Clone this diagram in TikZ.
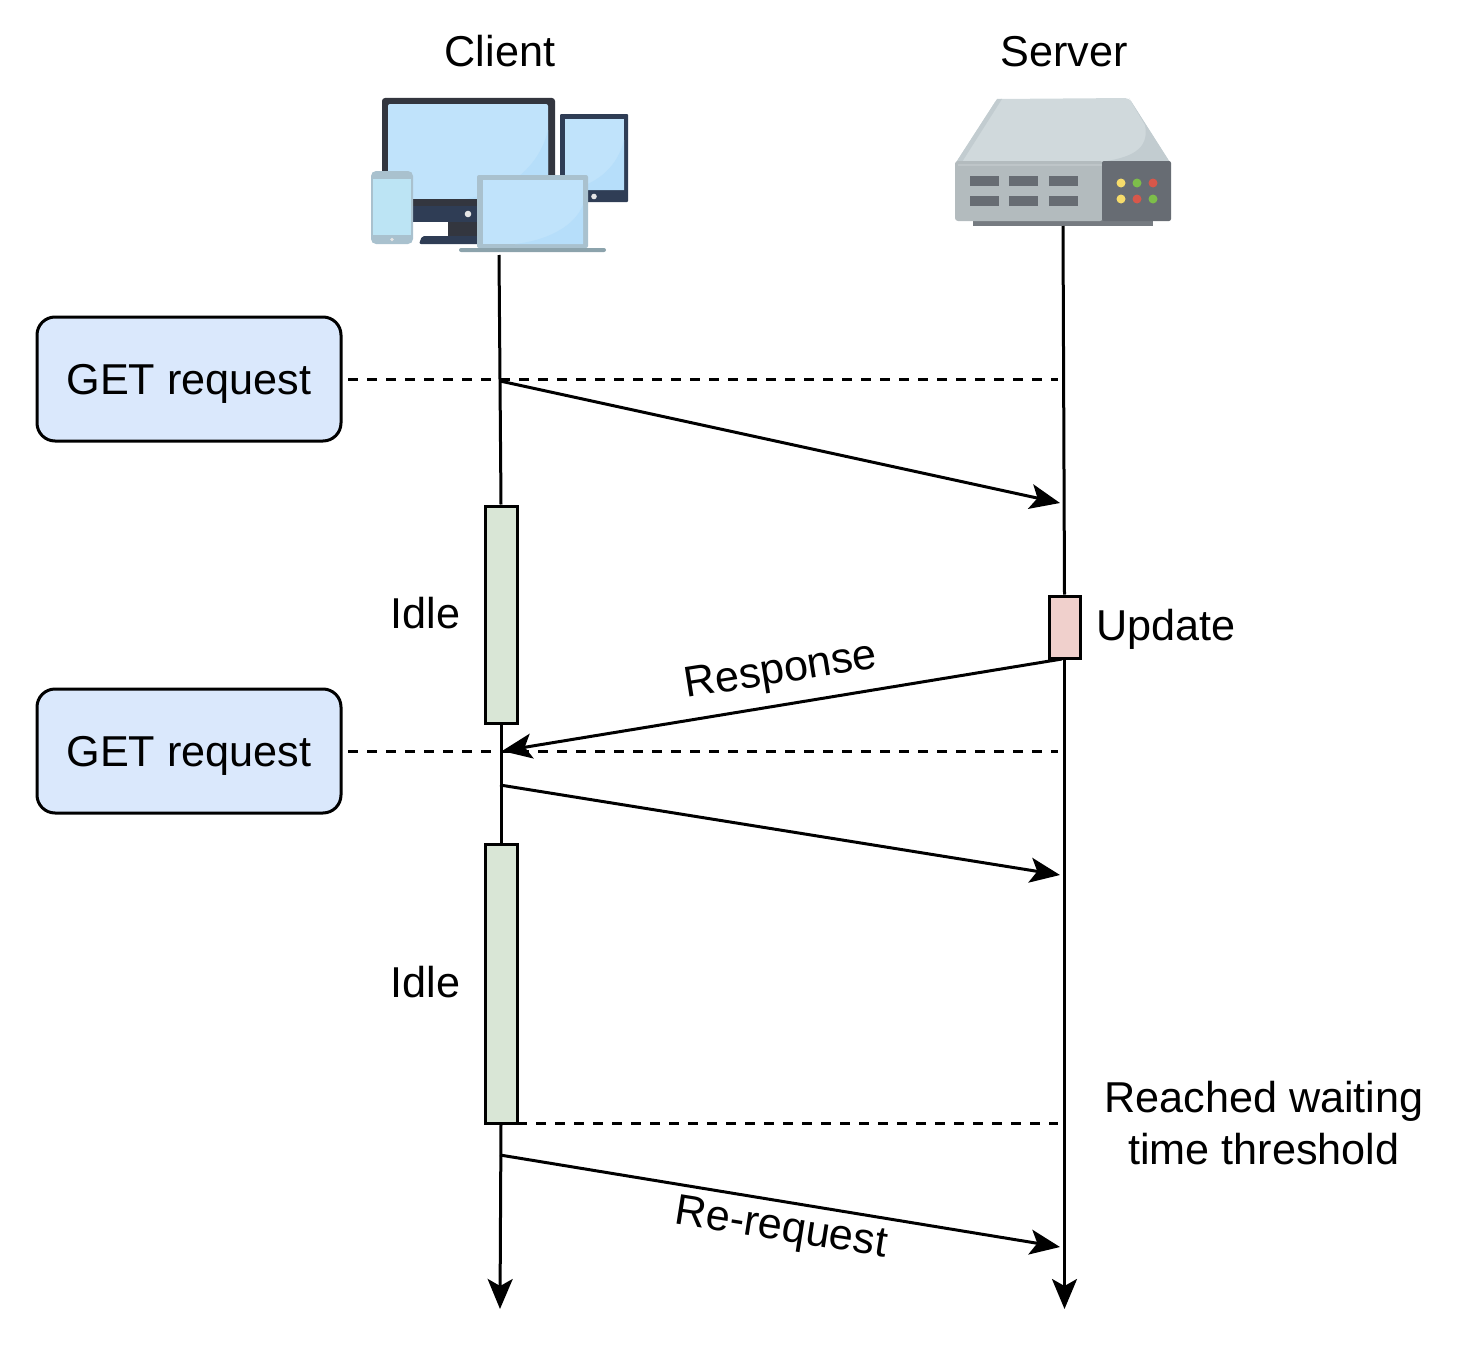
\documentclass[tikz,border=0pt]{standalone}
\usepackage{fontspec}
\setmainfont{Liberation Sans}
\usetikzlibrary{arrows.meta}
\definecolor{reqfill}{HTML}{DAE8FC}
\definecolor{idlefill}{HTML}{D9E6D6}
\definecolor{updfill}{HTML}{F0D0CC}
\definecolor{scr}{HTML}{C0E3FB}
\definecolor{scrb}{HTML}{B6DEFA}
\definecolor{dk}{HTML}{33363F}
\definecolor{nv}{HTML}{2F3D55}
\definecolor{sil}{HTML}{A9C1CE}
\definecolor{sil2}{HTML}{8CA3AC}
\definecolor{phs}{HTML}{BCE4F4}
\definecolor{top}{HTML}{D0D9DC}
\definecolor{topd}{HTML}{C2CCD0}
\definecolor{fr}{HTML}{B3BBBE}
\definecolor{pan}{HTML}{676C73}
\definecolor{lyel}{HTML}{F6DC6B}
\definecolor{lgrn}{HTML}{7DBE4A}
\definecolor{lred}{HTML}{D8574A}
\tikzset{
  x=1pt,y=-1pt,
  txt/.style={font=\fontsize{43.2}{52}\selectfont,inner sep=0pt,align=center},
  line/.style={line width=3pt,draw=black},
  flow/.style={line,-{Stealth[length=30pt,width=25pt,inset=7pt]}},
  dashln/.style={line,dash pattern=on 10pt off 9pt},
  reqbox/.style={line,fill=reqfill,rounded corners=18pt,minimum width=304pt,minimum height=124pt,inner sep=0pt,font=\fontsize{43.2}{52}\selectfont,text depth=0pt},
  idlebar/.style={line,fill=idlefill,minimum width=32pt,inner sep=0pt},
  updbar/.style={line,fill=updfill,minimum width=31pt,minimum height=62pt,inner sep=0pt},
}
\begin{document}
\begin{tikzpicture}
\useasboundingbox (0,0) rectangle (1468,1354);
% client icon
\fill[dk,rounded corners=3pt] (382,98) rectangle (555,216);
\fill[scr,rounded corners=2pt] (388,104) rectangle (548,199);
\fill[scrb] (548,130) .. controls (540,165) and (510,192) .. (465,199) -- (548,199) -- cycle;
\fill[nv] (412,199) rectangle (480,222);
\fill[dk] (412,199) rectangle (480,206);
\fill[dk] (448,222) rectangle (480,236);
\fill[nv,rounded corners=2pt] (419,244) -- (422,236) -- (480,236) -- (480,244) -- cycle;
\fill[white!90!black] (468,214) circle (3.3);
\fill[nv,rounded corners=1pt] (560,114) rectangle (628,202);
\fill[scr] (565,119) rectangle (624,190);
\fill[scrb] (624,140) .. controls (618,165) and (600,183) .. (570,190) -- (624,190) -- cycle;
\fill[white!90!black] (594,196.500) circle (2.8);
\fill[sil,rounded corners=5pt] (371,171) rectangle (413,244);
\fill[phs] (373,179) rectangle (411,235);
\fill[white!90!black] (392,239.500) circle (1.9);
\fill[sil,rounded corners=2pt] (477,175) rectangle (588,248);
\fill[scr] (483,180) rectangle (583,244);
\fill[scrb] (583,205) .. controls (575,225) and (550,240) .. (515,244) -- (583,244) -- cycle;
\fill[sil2,rounded corners=2pt] (459,248) rectangle (606,252);
% server icon
\fill[pan!90!white] (973,218) rectangle (1153,226);
\fill[top,rounded corners=4pt] (955,164) -- (997,99) -- (1129,98) -- (1171,164) -- (1171,172) -- (955,172) -- cycle;
\fill[topd] (955,164) -- (997,99) -- (1002,99) -- (962,162) -- cycle;
\fill[topd] (1171,164) -- (1129,98) -- (1145,125) .. controls (1150,150) and (1130,158) .. (1100,162) -- cycle;
\fill[fr,rounded corners=3pt] (955,161) rectangle (1103,221);
\fill[pan,rounded corners=2pt] (1102,161) rectangle (1171,221);
\fill[fr!85!white] (958,164) rectangle (1102,166);
\foreach \c in {970,1009,1049}{
  \foreach \r in {176,196}{
    \fill[pan] (\c,\r) rectangle ++(29,10);
  }
}
\fill[lyel] (1121,183) circle (4.5);
\fill[lgrn] (1137,183) circle (4.5);
\fill[lred] (1153,183) circle (4.5);
\fill[lyel] (1121,199) circle (4.5);
\fill[lred] (1137,199) circle (4.5);
\fill[lgrn] (1153,199) circle (4.5);
% titles
\node[txt] (clientlabel) at (500,51) {Client};
\node[txt] (serverlabel) at (1064,52) {Server};
% coordinates
\coordinate (ctop) at (499,255);
\coordinate (stop) at (1063,226);
\coordinate (cbot) at (500,1309);
\coordinate (sbot) at (1064.500,1309);
\coordinate (d1a) at (348,379);
\coordinate (d1b) at (1058,379);
\coordinate (d2a) at (348,751);
\coordinate (d2b) at (1058,751);
\coordinate (d3a) at (517,1123.500);
\coordinate (d3b) at (1058,1123.500);
\coordinate (a1s) at (500,381);
\coordinate (a1e) at (1060,503);
\coordinate (a2s) at (1062,659);
\coordinate (a2e) at (502,751);
\coordinate (a3s) at (500,785);
\coordinate (a3e) at (1060,875);
\coordinate (a4s) at (500,1155);
\coordinate (a4e) at (1060,1247);
% bars
\node[idlebar,minimum height=217pt] (idle1) at (501,614.500) {};
\node[idlebar,minimum height=279pt] (idle2) at (501,983.500) {};
\node[updbar] (upd) at (1064.500,627) {};
% lifelines
\draw[line] (ctop) -- (idle1.north);
\draw[line] (idle1.south) -- (idle2.north);
\draw[flow] (idle2.south) -- (cbot);
\draw[line] (stop) -- (upd.north);
\draw[flow] (upd.south) -- (sbot);
% request boxes
\node[reqbox] (get1) at (189,379) {GET request};
\node[reqbox] (get2) at (189,751) {GET request};
% dashes
\draw[dashln] (d1a) -- (d1b);
\draw[dashln] (d2a) -- (d2b);
\draw[dashln] (d3a) -- (d3b);
% arrows
\draw[flow] (a1s) -- (a1e);
\draw[flow] (a2s) -- (a2e);
\draw[flow] (a3s) -- (a3e);
\draw[flow] (a4s) -- (a4e);
% labels
\node[txt] (l1) at (425.500,613) {Idle};
\node[txt] (l2) at (425.500,982) {Idle};
\node[txt] (l3) at (1166,629) {Update};
\node[txt,rotate=9] (l4) at (781,672.500) {Response};
\node[txt,rotate=-9] (l5) at (781,1230) {Re-request};
\node[txt] (l6) at (1264,1123) {Reached waiting\\time threshold};
\end{tikzpicture}
\end{document}
